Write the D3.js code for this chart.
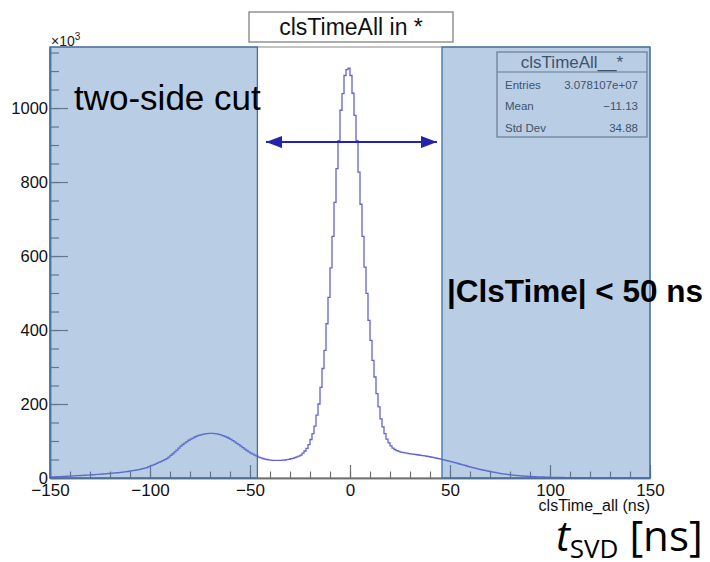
<!DOCTYPE html>
<html><head><meta charset="utf-8">
<script src="https://cdn.jsdelivr.net/npm/d3@7"></script>
<style>body{margin:0;background:#fff}svg{display:block}text{font-family:"Liberation Sans",Arial,sans-serif}</style>
</head><body><svg id="c" width="710" height="562"></svg>
<script>
// ---- data (histogram clsTimeAll, 1 ns bins from -150 to 150, counts in units of 10^3) ----
const binLow = -150, binWidth = 1;
const counts = [
 2.8,3,3.2,3.4,3.6,3.8,4.1,4.4,4.7,5,
 5.3,5.6,5.9,6.2,6.5,6.8,7.1,7.4,7.7,8,
 8.4,8.8,9.2,9.6,10,10.4,10.8,11.2,11.7,12.2,
 12.7,13.2,13.7,14.2,14.8,15.4,16,16.7,17.4,18.2,
 19,19.9,20.8,21.8,22.9,24,25.3,26.7,28.2,30.5,
 33,35,37,39.5,42,44.5,47,49.5,52.5,56.5,
 61,65.5,70.5,75.5,81,86,90.5,94.5,98.5,102,
 105,108,110.8,113,115,116.7,118,119.2,120,120.6,
 120.8,120.6,120,119.2,118,116.6,114.8,112.6,110.2,107.5,
 104.5,101,97.5,93.8,90,86,82,78,74.3,70.8,
 67.5,64.4,61.6,59,56.6,54.5,52.7,51.2,50,49.1,
 48.4,47.9,47.6,47.5,47.5,47.7,48.1,48.7,49.5,50.5,
 52,53,55,57,59,62,67,73,80,90,
 104,120,140,170,200,245,296,345,417,488,
 568,653,745,836,912,994,1039,1088,1104,1108,
 1088,1040,980,912,827,740,653,570,499,426,
 372,318,273,228,192,160,138,120,105,95,
 87,81,77,74,72,70,69,68,67,66,
 65,64.3,63.6,62.9,62.2,61.4,60.6,59.7,58.8,57.8,
 56.8,55.7,54.6,53.4,52.2,51,49.8,48.5,47.2,45.8,
 44.4,43,41.5,40,38.5,37,35.5,34,32.5,31,
 29.5,28,26.7,25.4,24.1,22.8,21.6,20.4,19.3,18.2,
 17.1,16,15,14,13,12,11.2,10.4,9.7,9,
 8.4,7.8,7.2,6.7,6.2,5.8,5.4,5,4.7,4.4,
 4.1,3.8,3.5,3.3,3.1,2.9,2.7,2.5,2.3,2.1,
 1.9,1.8,1.7,1.6,1.5,1.4,1.3,1.2,1.1,1.0,
 0.9,0.85,0.8,0.75,0.7,0.65,0.6,0.55,0.5,0.45,
 0.4,0.38,0.36,0.34,0.32,0.3,0.28,0.26,0.25,0.24,
 0.23,0.22,0.21,0.2,0.19,0.18,0.17,0.16,0.15,0.15,
 0.14,0.14,0.13,0.13,0.12,0.12,0.11,0.11,0.1,0.1
];
const xDomain = [-150, 150];
const yDomain = [0, 1165];
const xMajorTicks = [-150, -100, -50, 0, 50, 100, 150];
const yMajorTicks = [0, 200, 400, 600, 800, 1000];
const histTitle = "clsTimeAll in *";
const statsTitle = "clsTimeAll__*";
const statsLabels = ["Entries", "Mean", "Std Dev"];
const statsValues = ["3.078107e+07", "\u221211.13", "34.88"];
const xAxisTitle = "clsTime_all (ns)";
const cutRegions = [[-150, -46.3], [46, 150]];
const arrowSpan = [-42, 43.5];
const arrowLevel = 908;
const cutLabel = "two-side cut";
const cutCondition = "|ClsTime| < 50 ns";

// ---- drawing ----
const svg = d3.select("#c");
const W = 710, H = 562;
const L = 50, R = 650, T = 47, B = 478;
const x = d3.scaleLinear().domain(xDomain).range([L, R]);
const y = d3.scaleLinear().domain(yDomain).range([B, T]);
svg.append("rect").attr("width", W).attr("height", H).attr("fill", "#fff");

// title box
svg.append("rect").attr("x", 249).attr("y", 12).attr("width", 204).attr("height", 30)
  .attr("fill", "#fff").attr("stroke", "#777").attr("stroke-width", 1.2);
svg.append("text").attr("x", 351).attr("y", 35).attr("text-anchor", "middle")
  .attr("font-size", 23).attr("fill", "#111").text(histTitle);

// frame
svg.append("rect").attr("x", L).attr("y", T).attr("width", R - L).attr("height", B - T)
  .attr("fill", "none").attr("stroke", "#888").attr("stroke-width", 1);

const axCol = "#6f6f6f";
// x axis
const xMinor = d3.range(-150, 151, 10);
const gxm = svg.append("g").attr("transform", `translate(0,${B})`)
  .call(d3.axisBottom(x).tickValues(xMinor).tickSizeInner(-6.5).tickSizeOuter(0).tickFormat(""));
const gx = svg.append("g").attr("transform", `translate(0,${B})`)
  .call(d3.axisBottom(x).tickValues(xMajorTicks).tickSizeInner(-13).tickSizeOuter(0).tickPadding(6));
[gx, gxm].forEach(g => { g.select(".domain").attr("stroke", axCol).attr("stroke-width", 1.5);
  g.selectAll(".tick line").attr("stroke", axCol).attr("stroke-width", 1.2); });
gx.selectAll("text").attr("font-size", 17).attr("fill", "#111")
  .style("font-family", '"Liberation Sans",Arial,sans-serif');

// y axis
const yMinor = d3.range(0, 1151, 50);
const gym = svg.append("g").attr("transform", `translate(${L},0)`)
  .call(d3.axisLeft(y).tickValues(yMinor).tickSizeInner(-9).tickSizeOuter(0).tickFormat(""));
const gy = svg.append("g").attr("transform", `translate(${L},0)`)
  .call(d3.axisLeft(y).tickValues(yMajorTicks).tickSizeInner(-18).tickSizeOuter(0).tickPadding(2).tickFormat(d3.format("d")));
[gy, gym].forEach(g => { g.select(".domain").attr("stroke", axCol).attr("stroke-width", 1.5);
  g.selectAll(".tick line").attr("stroke", axCol).attr("stroke-width", 1.2); });
gy.selectAll("text").attr("font-size", 16.5).attr("fill", "#111")
  .style("font-family", '"Liberation Sans",Arial,sans-serif');

// x10^3
const ex = svg.append("text").attr("x", 51).attr("y", 46).attr("font-size", 14).attr("fill", "#222");
ex.append("tspan").text("\u00d710");
ex.append("tspan").attr("font-size", 10).attr("dy", -6).text("3");

// x axis title
svg.append("text").attr("x", R).attr("y", 511).attr("text-anchor", "end")
  .attr("font-size", 16).attr("fill", "#111").text(xAxisTitle);

// histogram step line
const pts = counts.map((v, i) => [binLow + i * binWidth, v]);
pts.push([binLow + counts.length * binWidth, counts[counts.length - 1]]);
svg.append("path").datum(pts)
  .attr("d", d3.line().x(d => x(d[0])).y(d => y(d[1])).curve(d3.curveStepAfter))
  .attr("fill", "none").attr("stroke", "#6262d6").attr("stroke-width", 1.3);

// stats box
const sb = svg.append("g");
sb.append("rect").attr("x", 497).attr("y", 52).attr("width", 150).attr("height", 85)
  .attr("fill", "#fff").attr("stroke", "#777").attr("stroke-width", 1.2);
sb.append("line").attr("x1", 497).attr("x2", 647).attr("y1", 72).attr("y2", 72)
  .attr("stroke", "#777").attr("stroke-width", 1.2);
sb.append("text").attr("x", 572).attr("y", 68).attr("text-anchor", "middle")
  .attr("font-size", 17).attr("fill", "#333").text(statsTitle);
statsLabels.forEach((lab, i) => {
  sb.append("text").attr("x", 505).attr("y", 89 + i * 21.3).attr("font-size", 11.5).attr("fill", "#333").text(lab);
  sb.append("text").attr("x", 638).attr("y", 89 + i * 21.3).attr("text-anchor", "end")
    .attr("font-size", 11.5).attr("fill", "#333").text(statsValues[i]);
});

// shaded cut regions
cutRegions.forEach(([a, b]) => {
  svg.append("rect").attr("x", x(a)).attr("y", T).attr("width", x(b) - x(a)).attr("height", B - T)
    .attr("fill", "#4F81BD").attr("fill-opacity", 0.4)
    .attr("stroke", "#4170a8").attr("stroke-width", 1.3);
});

// arrow
const defs = svg.append("defs");
defs.append("marker").attr("id", "ah").attr("viewBox", "0 0 16 12").attr("refX", 16).attr("refY", 6)
  .attr("markerWidth", 16).attr("markerHeight", 12).attr("markerUnits", "userSpaceOnUse")
  .attr("orient", "auto-start-reverse")
  .append("path").attr("d", "M0,0 L16,6 L0,12 Z").attr("fill", "#2323ad");
svg.append("line").attr("x1", x(arrowSpan[0])).attr("x2", x(arrowSpan[1]))
  .attr("y1", y(arrowLevel)).attr("y2", y(arrowLevel))
  .attr("stroke", "#2323ad").attr("stroke-width", 2)
  .attr("marker-start", "url(#ah)").attr("marker-end", "url(#ah)");

// annotations
svg.append("text").attr("x", 74).attr("y", 110).attr("font-size", 35).attr("fill", "#000").text(cutLabel);
svg.append("text").attr("x", 447).attr("y", 302).attr("font-size", 31.5).attr("font-weight", "bold")
  .attr("fill", "#000").text(cutCondition);

// t_SVD [ns]
const ts = svg.append("text").attr("x", 556).attr("y", 551).attr("font-size", 42).attr("fill", "#000")
  .style("font-family", '"Open Sans","Liberation Sans",sans-serif');
ts.append("tspan").attr("font-style", "italic").text("t");
ts.append("tspan").attr("font-size", 26).attr("dy", 7).text("SVD");
ts.append("tspan").attr("dy", -7).text(" [ns]");
</script></body></html>
